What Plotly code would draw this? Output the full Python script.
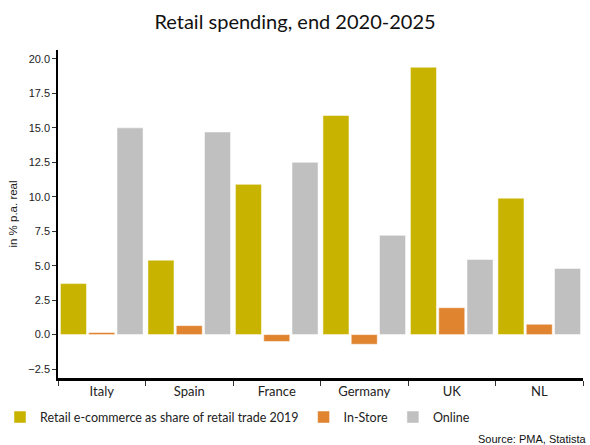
import plotly.graph_objects as go

countries = ["Italy", "Spain", "France", "Germany", "UK", "NL"]
ecommerce_share_2019 = [3.7, 5.4, 10.9, 15.9, 19.4, 9.9]
in_store = [0.15, 0.65, -0.5, -0.7, 1.95, 0.75]
online = [15.0, 14.7, 12.5, 7.2, 5.45, 4.8]

series = [
    ("Retail e-commerce as share of retail trade 2019", ecommerce_share_2019, "#C8B400"),
    ("In-Store", in_store, "#E08430"),
    ("Online", online, "#C0C0C0"),
]

fig = go.Figure()
for name, vals, color in series:
    fig.add_trace(go.Bar(
        x=countries, y=vals, name=name,
        marker=dict(color=color, line=dict(color="white", width=0.5)),
    ))

humanist = "Lato, 'Open Sans', sans-serif"
sans = "'Liberation Sans', Arial, sans-serif"

fig.update_layout(
    width=590, height=445,
    margin=dict(l=58, r=7, t=50, b=67, autoexpand=False),
    paper_bgcolor="white", plot_bgcolor="white",
    barmode="group", bargap=0.03, bargroupgap=0.08,
    title=dict(text="Retail spending, end 2020-2025", x=0.5, xanchor="center",
               y=0.95, yanchor="middle",
               font=dict(family=humanist, size=20, color="#111")),
    showlegend=True,
    legend=dict(orientation="h", xref="container", x=-0.028, xanchor="left",
                yref="container", y=0.062, yanchor="middle",
                font=dict(family=humanist, size=12.5, color="#222"),
                itemwidth=30, traceorder="normal", tracegroupgap=0),
    xaxis=dict(
        showline=True, linecolor="black", linewidth=2.5,
        ticks="outside", tickson="boundaries", ticklen=5, tickcolor="#333",
        tickfont=dict(family=humanist, size=13, color="#222"),
        showgrid=False,
    ),
    yaxis=dict(
        range=[-3.15, 20.65], dtick=2.5, tickformat=".1f",
        showline=True, linecolor="black", linewidth=1.5,
        ticks="outside", ticklen=4, tickcolor="#333",
        tickfont=dict(family=sans, size=11, color="#222"),
        showgrid=False, zeroline=False,
        title=dict(text="in % p.a. real", font=dict(family=sans, size=11.5, color="#222"),
                   standoff=8),
    ),
    annotations=[dict(
        text="Source: PMA, Statista", xref="paper", yref="paper",
        x=1.01, y=-0.185, xanchor="right", yanchor="middle", showarrow=False,
        font=dict(family=sans, size=11, color="#111"),
    )],
)

fig.write_html("out.html")
